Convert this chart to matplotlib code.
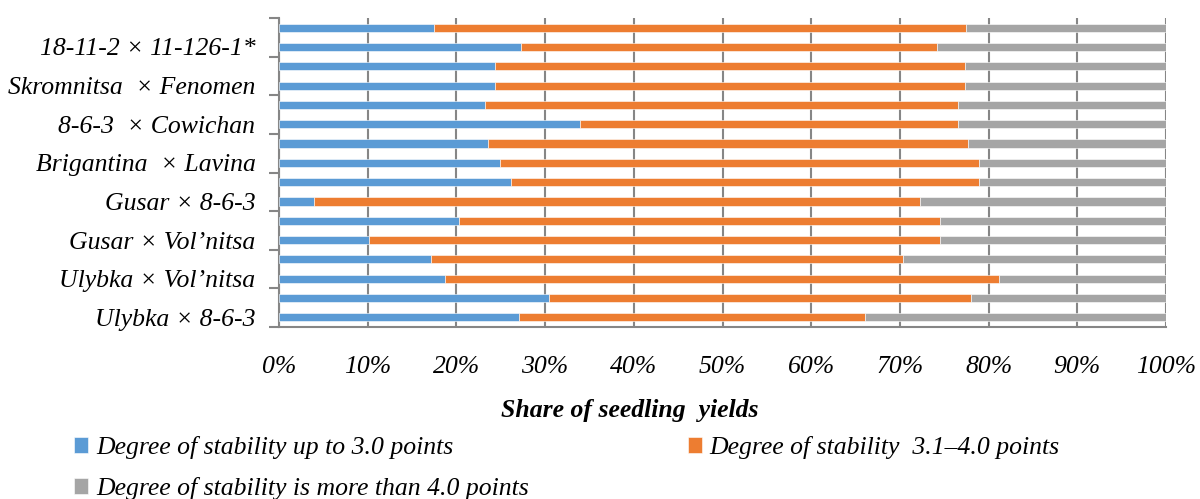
import numpy as np
import matplotlib
matplotlib.use('Agg')
import matplotlib.pyplot as plt
from matplotlib.ticker import FuncFormatter, FixedLocator

# shares per hybrid row (top to bottom), percent of seedling yields
low_share = [17.5, 27.3, 24.4, 24.4, 23.2, 33.9, 23.6, 24.9,
             26.1, 3.9, 20.3, 10.2, 17.1, 18.7, 30.4, 27.1]
mid_share = [60.0, 46.9, 52.9, 52.9, 53.4, 42.7, 54.1, 54.0,
             52.8, 68.4, 54.2, 64.3, 53.2, 62.5, 47.6, 39.0]
high_share = [22.5, 25.8, 22.7, 22.7, 23.4, 23.4, 22.3, 21.1,
              21.1, 27.7, 25.5, 25.5, 29.7, 18.8, 22.0, 33.9]

# labelled rows, bottom to top (every second row carries a name)
row_labels = ['Ulybka × 8-6-3', 'Ulybka × Vol\u2019nitsa', 'Gusar × Vol\u2019nitsa',
              'Gusar × 8-6-3', 'Brigantina  × Lavina', '8-6-3  × Cowichan',
              'Skromnitsa  × Fenomen', '18-11-2 × 11-126-1*']

series_names = ['Degree of stability up to 3.0 points',
                'Degree of stability  3.1\u20134.0 points',
                'Degree of stability is more than 4.0 points']
colors = ['#5B9BD5', '#ED7D31', '#A5A5A5']

plt.rcParams['font.family'] = ['Liberation Serif', 'DejaVu Serif']
plt.rcParams['font.style'] = 'italic'
plt.rcParams['font.size'] = 18.5

fig = plt.figure(figsize=(12, 4.99), dpi=100)
ax = fig.add_axes([279/1200, 1-327/499, (1166-279)/1200, (327-18)/499])

n = len(low_share)
pos = np.arange(n)[::-1]
low = np.array(low_share)
mid = np.array(mid_share)
high = np.array(high_share)

bars = []
left = np.zeros(n)
for vals, c in zip([low, mid, high], colors):
    b = ax.barh(pos, vals, left=left, height=0.42, color=c,
                edgecolor='white', linewidth=0.4, zorder=3)
    bars.append(b)
    left = left + vals

ax.set_xlim(0, 100)
ax.set_ylim(-0.5, n - 0.5)
ax.set_xticks(np.arange(0, 101, 10))
ax.xaxis.set_major_formatter(FuncFormatter(lambda v, p: '%d%%' % v))
ax.grid(axis='x', color='#868686', linewidth=1.5, zorder=0)
ax.tick_params(axis='x', length=0, pad=21)

ax.set_yticks(np.arange(0, n, 2))
ax.set_yticklabels(row_labels)
ax.yaxis.set_minor_locator(FixedLocator(np.arange(-0.5, n, 2)))
ax.tick_params(axis='y', which='major', length=0, pad=17)
ax.tick_params(axis='y', which='minor', length=7, width=1.5, color='#868686')

for s in ['top', 'right']:
    ax.spines[s].set_visible(False)
for s in ['left', 'bottom']:
    ax.spines[s].set_color('#868686')
    ax.spines[s].set_linewidth(1.5)

fig.text(630/1200, 1-410/499, 'Share of seedling  yields', ha='center', va='center',
         fontweight='bold', fontsize=18.5)

leg = fig.legend([bars[0], bars[2], bars[1]],
                 [series_names[0], series_names[2], series_names[1]],
                 ncol=2, loc='upper left', bbox_to_anchor=(74/1200, 1-436/499),
                 frameon=False, handlelength=0.55, handleheight=0.55,
                 handletextpad=0.3, columnspacing=6.2, labelspacing=0.7,
                 borderaxespad=0, borderpad=0)

fig.savefig('out.png', dpi=100)
